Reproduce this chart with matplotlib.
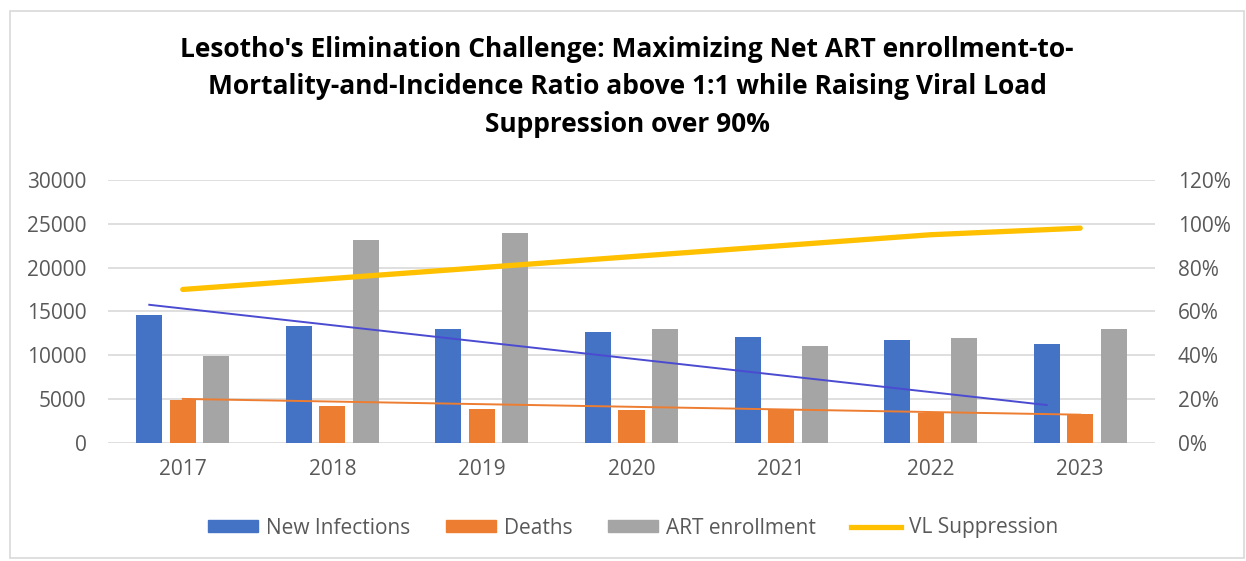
import matplotlib
matplotlib.use("Agg")
import matplotlib.pyplot as plt
from matplotlib.patches import Rectangle
from matplotlib.lines import Line2D
from matplotlib.ticker import FuncFormatter
import numpy as np

years = ["2017", "2018", "2019", "2020", "2021", "2022", "2023"]
new_infections = [14600, 13300, 13000, 12600, 12100, 11700, 11300]
deaths = [4900, 4200, 3900, 3700, 3900, 3400, 3300]
art_enrollment = [9900, 23100, 24000, 13000, 11000, 11900, 13000]
vl_suppression = [0.70, 0.75, 0.80, 0.85, 0.90, 0.95, 0.98]
# trendline end values (first and last year)
infections_trend = [15750, 4300]
deaths_trend = [5000, 3200]

title = ("Lesotho's Elimination Challenge: Maximizing Net ART enrollment-to-\n"
         "Mortality-and-Incidence Ratio above 1:1 while Raising Viral Load\n"
         "Suppression over 90%")

plt.rcParams['font.family'] = ['Open Sans', 'DejaVu Sans']

W, H = 1246, 561
fig = plt.figure(figsize=(W / 100, H / 100), dpi=100)

# outer frame
fig.patches.append(Rectangle((10 / W, 3 / H), 1234 / W, 547 / H, transform=fig.transFigure,
                             fill=False, edgecolor="#d9d9d9", linewidth=1.2))

ax = fig.add_axes([108 / W, 1 - 442.7 / H, (1155 - 108) / W, (442.7 - 180) / H])
x = np.arange(len(years))
off = 0.224
bw = 0.174
c_blue, c_orange, c_gray, c_yellow = "#4472C4", "#ED7D31", "#A5A5A5", "#FFC000"

ax.bar(x - off, new_infections, bw, color=c_blue, zorder=3, label="New Infections")
ax.bar(x, deaths, bw, color=c_orange, zorder=3, label="Deaths")
ax.bar(x + off, art_enrollment, bw, color=c_gray, zorder=3, label="ART enrollment")

ax.plot([x[0] - off, x[-1] - off], infections_trend, color="#4b4bd2", lw=1.4, zorder=4)
ax.plot([x[0], x[-1]], deaths_trend, color=c_orange, lw=1.4, zorder=4)

ax.set_xlim(-0.5, len(years) - 0.5)
ax.set_ylim(0, 30000)
ax.set_yticks(range(0, 30001, 5000))
ax.set_xticks(x)
ax.set_xticklabels(years)
ax.yaxis.grid(True, color="#d9d9d9", lw=1.2, zorder=0)
ax.set_axisbelow(True)
for s in ax.spines.values():
    s.set_visible(False)
ax.tick_params(axis="both", length=0, labelsize=15, labelcolor="#595959")
ax.tick_params(axis="y", pad=15.5)
ax.tick_params(axis="x", pad=12)

ax2 = ax.twinx()
ax2.plot(x, vl_suppression, color=c_yellow, lw=3.8, solid_capstyle="round", zorder=5,
         label="VL Suppression")
ax2.set_ylim(0, 1.2)
ax2.set_yticks(np.arange(0, 1.21, 0.2))
ax2.yaxis.set_major_formatter(FuncFormatter(lambda v, p: f"{v*100:.0f}%"))
for s in ax2.spines.values():
    s.set_visible(False)
ax2.tick_params(axis="y", length=0, labelsize=15, labelcolor="#595959", pad=16.5)

fig.text(627 / W, 1 - 87 / H, title, ha="center", va="center", fontsize=19,
         fontweight="bold", color="#000000", linespacing=1.5)

handles = [Rectangle((0, 0), 1, 1, color=c_blue), Rectangle((0, 0), 1, 1, color=c_orange),
           Rectangle((0, 0), 1, 1, color=c_gray), Line2D([], [], color=c_yellow, lw=3.8)]
labels = ["New Infections", "Deaths", "ART enrollment", "VL Suppression"]
leg = fig.legend(handles, labels, loc="center", bbox_to_anchor=(633 / W, 1 - 528 / H),
                 ncol=4, frameon=False, fontsize=15, handlelength=2.4, handleheight=0.45,
                 handletextpad=0.38, columnspacing=1.7)
for t in leg.get_texts():
    t.set_color("#595959")

fig.savefig("out.png", dpi=100)
